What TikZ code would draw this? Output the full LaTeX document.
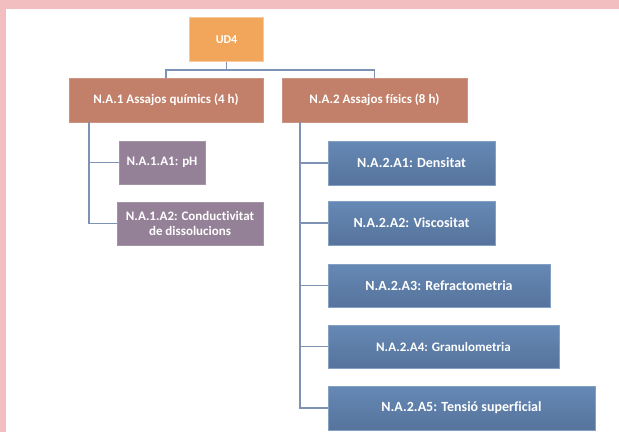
\documentclass[tikz,border=0pt]{standalone}
\usepackage{fontspec}
\setmainfont[Ligatures=NoCommon]{Carlito}
\definecolor{pinkc}{HTML}{F2BEBF}
\definecolor{orangec}{HTML}{F2A65C}
\definecolor{salmonc}{HTML}{C2806A}
\definecolor{purplec}{HTML}{958197}
\definecolor{bluetop}{HTML}{6589B5}
\definecolor{bluebot}{HTML}{56739C}
\definecolor{linec}{HTML}{7E92B3}
\tikzset{
  box/.style={rectangle, inner sep=2pt, align=center, text=white,
    font=\fontsize{13}{15}\selectfont\bfseries},
  topbox/.style={box, fill=orangec, draw=orangec!60!white, line width=0.8pt},
  nabox/.style={box, fill=salmonc, draw=salmonc!85!white, line width=0.5pt},
  pbox/.style={box, fill=purplec, draw=purplec!85!white, line width=0.5pt},
  bbox/.style={box, top color=bluetop, bottom color=bluebot, draw=bluetop!80!white, line width=0.5pt,
    font=\fontsize{14}{16}\selectfont\bfseries},
  conn/.style={draw=linec, line width=1.5pt},
}
\begin{document}
\begin{tikzpicture}[x=1pt,y=-1pt]
\useasboundingbox (0,0) rectangle (619,432);
\fill[pinkc] (0,0) rectangle (619,9);
\fill[pinkc] (0,0) rectangle (6,432);

\node[topbox, minimum width=74pt, minimum height=44pt, font=\fontsize{12}{14}\selectfont\bfseries] (ud4) at (226.5,39.5) {UD4};

\node[nabox, minimum width=194pt, minimum height=44pt] (na1) at (166,100) {N.A.1 Assajos químics (4 h)};
\node[nabox, minimum width=185pt, minimum height=44pt] (na2) at (374.5,100) {N.A.2 Assajos físics (8 h)};

\node[pbox, minimum width=86pt, minimum height=43pt] (c1) at (162,162.5) {N.A.1.A1: pH};
\node[pbox, minimum width=146pt, minimum height=43pt] (c2) at (190,223.5) {N.A.1.A2: Conductivitat\\de dissolucions};

\node[bbox, minimum width=167pt, minimum height=44pt] (d1) at (411.5,163) {N.A.2.A1: Densitat};
\node[bbox, minimum width=167pt, minimum height=44pt] (d2) at (411.5,223) {N.A.2.A2: Viscositat};
\node[bbox, minimum width=222pt, minimum height=43pt] (d3) at (439,285.5) {N.A.2.A3: Refractometria};
\node[bbox, minimum width=231pt, minimum height=43pt, font=\fontsize{13}{15}\selectfont\bfseries] (d4) at (443.5,346.5) {N.A.2.A4: Granulometria};
\node[bbox, minimum width=267pt, minimum height=44pt] (d5) at (461.5,408) {N.A.2.A5: Tensió superficial};

\draw[conn] (ud4.south) -- ++(0,8) coordinate (bus);
\draw[conn] (na1.north) |- (bus) -| (na2.north);

\coordinate (l0) at ([xshift=20pt]na1.south west);
\draw[conn] (l0) |- (c1.west);
\draw[conn] (l0) |- (c2.west);

\coordinate (r0) at ([xshift=18pt]na2.south west);
\draw[conn] (r0) |- (d1.west);
\draw[conn] (r0) |- (d2.west);
\draw[conn] (r0) |- (d3.west);
\draw[conn] (r0) |- (d4.west);
\draw[conn] (r0) |- (d5.west);
\end{tikzpicture}
\end{document}
